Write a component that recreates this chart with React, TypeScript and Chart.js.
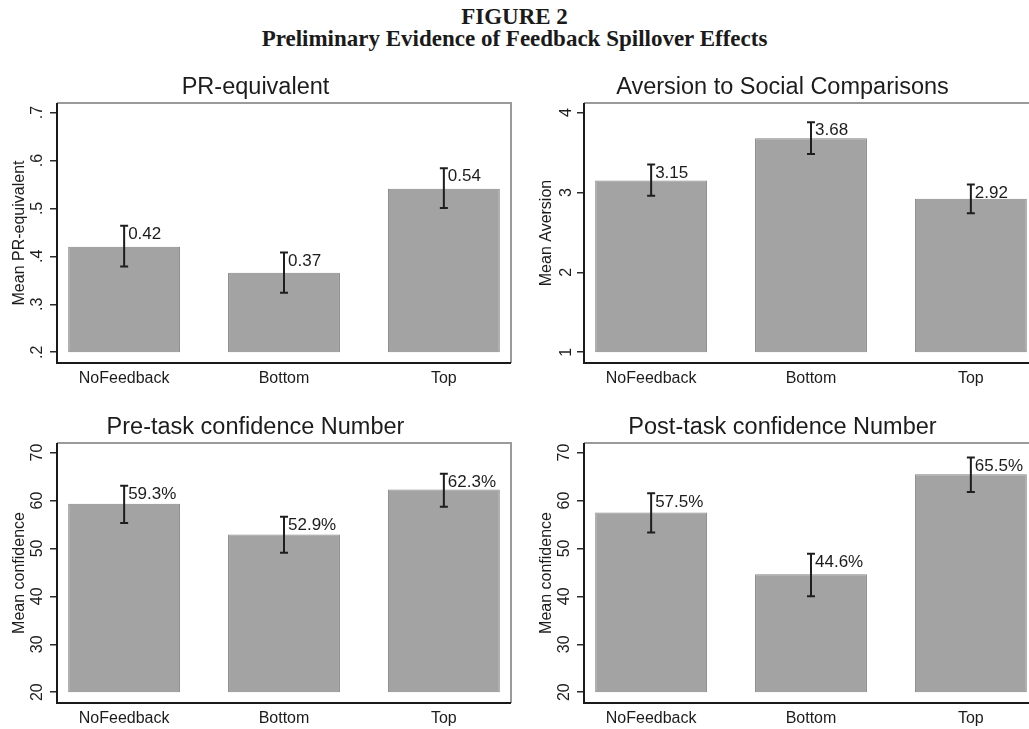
import React, { useEffect, useRef } from 'react';
import { Chart, registerables } from 'chart.js';

Chart.register(...registerables);

// ---------- data ----------
const categories = ['NoFeedback', 'Bottom', 'Top'];

const prMean = [0.42, 0.366, 0.541];
const prLow = [0.379, 0.324, 0.501];
const prHigh = [0.464, 0.408, 0.584];
const prTicks = [0.2, 0.3, 0.4, 0.5, 0.6, 0.7];
const prTickLabels = ['.2', '.3', '.4', '.5', '.6', '.7'];

const aversionMean = [3.15, 3.68, 2.92];
const aversionLow = [2.96, 3.48, 2.74];
const aversionHigh = [3.35, 3.88, 3.1];
const aversionTicks = [1, 2, 3, 4];
const aversionTickLabels = ['1', '2', '3', '4'];

const preMean = [59.3, 52.9, 62.3];
const preLow = [55.3, 49.1, 58.7];
const preHigh = [63.1, 56.6, 65.6];

const postMean = [57.5, 44.6, 65.5];
const postLow = [53.3, 40.0, 61.8];
const postHigh = [61.5, 48.9, 69.0];

const confTicks = [20, 30, 40, 50, 60, 70];
const confTickLabels = ['20', '30', '40', '50', '60', '70'];

// ---------- styling ----------
const FONT = "'Liberation Sans', Arial, Helvetica, sans-serif";
const TEXT = '#1c1c1c';
const CANVAS_W = 568;
const CANVAS_H = 333;

type PanelDef = {
  title: string;
  yTitle: string;
  mean: number[];
  low: number[];
  high: number[];
  ticks: number[];
  tickLabels: string[];
  fmt: (v: number) => string;
  tickPad: number;
};

const panels: PanelDef[] = [
  { title: 'PR-equivalent', yTitle: 'Mean PR-equivalent', mean: prMean, low: prLow, high: prHigh, ticks: prTicks, tickLabels: prTickLabels, fmt: (v) => v.toFixed(2), tickPad: 5.8 },
  { title: 'Aversion to Social Comparisons', yTitle: 'Mean Aversion', mean: aversionMean, low: aversionLow, high: aversionHigh, ticks: aversionTicks, tickLabels: aversionTickLabels, fmt: (v) => v.toFixed(2), tickPad: 5.5 },
  { title: 'Pre-task confidence Number', yTitle: 'Mean confidence', mean: preMean, low: preLow, high: preHigh, ticks: confTicks, tickLabels: confTickLabels, fmt: (v) => v.toFixed(1) + '%', tickPad: 3.1 },
  { title: 'Post-task confidence Number', yTitle: 'Mean confidence', mean: postMean, low: postLow, high: postHigh, ticks: confTicks, tickLabels: confTickLabels, fmt: (v) => v.toFixed(1) + '%', tickPad: 3.1 },
];

function makeConfig(p: PanelDef): any {
  const lo = p.ticks[0];
  const hi = p.ticks[p.ticks.length - 1];
  const span = hi - lo;
  const base = lo;

  const overlay = {
    id: 'overlay' + p.title,
    afterDatasetsDraw(chart: any) {
      const { ctx, chartArea } = chart;
      const xs = chart.scales.x;
      const ys = chart.scales.y;
      ctx.save();
      // error bars
      ctx.strokeStyle = '#1e1e1e';
      ctx.lineWidth = 2;
      for (let i = 0; i < categories.length; i++) {
        const x = xs.getPixelForValue(i);
        const yH = ys.getPixelForValue(p.high[i]);
        const yL = ys.getPixelForValue(p.low[i]);
        ctx.beginPath();
        ctx.moveTo(x, yH);
        ctx.lineTo(x, yL);
        ctx.moveTo(x - 4, yH);
        ctx.lineTo(x + 4, yH);
        ctx.moveTo(x - 4, yL);
        ctx.lineTo(x + 4, yL);
        ctx.stroke();
        ctx.fillStyle = TEXT;
        ctx.font = `17px ${FONT}`;
        ctx.textAlign = 'left';
        ctx.textBaseline = 'middle';
        ctx.fillText(p.fmt(p.mean[i]), x + 4, yH + 8.5);
      }
      // frame
      ctx.lineWidth = 2;
      ctx.strokeStyle = '#9a9a9a';
      ctx.beginPath();
      ctx.moveTo(chartArea.left, chartArea.top);
      ctx.lineTo(chartArea.right, chartArea.top);
      ctx.lineTo(chartArea.right, chartArea.bottom);
      ctx.stroke();
      ctx.strokeStyle = '#1a1a1a';
      ctx.beginPath();
      ctx.moveTo(chartArea.left, chartArea.top);
      ctx.lineTo(chartArea.left, chartArea.bottom);
      ctx.lineTo(chartArea.right, chartArea.bottom);
      ctx.stroke();
      ctx.restore();
    },
  };

  return {
    type: 'bar',
    data: {
      datasets: [
        {
          data: categories.map((_, i) => ({ x: i, y: [base, p.mean[i]] })),
          backgroundColor: '#a3a3a3',
          borderColor: '#868686',
          borderWidth: 1,
          borderSkipped: false,
          categoryPercentage: 1,
          barPercentage: 0.7,
        },
      ],
    },
    options: {
      responsive: false,
      animation: false,
      events: [],
      layout: { padding: { left: 0, right: 57, top: 0, bottom: 0 } },
      plugins: {
        legend: { display: false },
        tooltip: { enabled: false },
        title: {
          display: true,
          text: p.title,
          color: TEXT,
          font: { family: FONT, size: 23.5, weight: 'normal' },
          padding: { top: 13.9, bottom: 0.9 },
        },
      },
      scales: {
        x: {
          type: 'linear',
          offset: false,
          min: -0.42,
          max: 2.42,
          grid: { display: false, drawTicks: false, drawOnChartArea: false },
          border: { display: false },
          afterBuildTicks: (s: any) => {
            s.ticks = categories.map((_, i) => ({ value: i }));
          },
          afterFit: (s: any) => {
            s.height = 30;
          },
          ticks: {
            autoSkip: false,
            maxRotation: 0,
            minRotation: 0,
            padding: 5.5,
            color: TEXT,
            font: { family: FONT, size: 16 },
            callback: (_v: any, i: number) => categories[i],
          },
        },
        y: {
          type: 'linear',
          min: lo - 0.045 * span,
          max: hi + 0.04 * span,
          grid: {
            display: true,
            drawOnChartArea: false,
            drawTicks: true,
            tickLength: 7,
            color: '#2a2a2a',
            lineWidth: 1.5,
          },
          border: { display: false },
          afterBuildTicks: (s: any) => {
            s.ticks = p.ticks.map((v) => ({ value: v }));
          },
          afterFit: (s: any) => {
            s.width = 57;
          },
          ticks: {
            autoSkip: false,
            minRotation: 90,
            maxRotation: 90,
            crossAlign: 'center',
            padding: p.tickPad,
            color: TEXT,
            font: { family: FONT, size: 16 },
            callback: (_v: any, i: number) => p.tickLabels[i],
          },
          title: {
            display: true,
            text: p.yTitle,
            color: TEXT,
            font: { family: FONT, size: 16 },
            padding: { top: 10, bottom: 0 },
          },
        },
      },
    },
    plugins: [overlay],
  };
}

function PanelChart({ panel, left, top }: { panel: PanelDef; left: number; top: number }) {
  const ref = useRef<HTMLCanvasElement | null>(null);
  useEffect(() => {
    if (!ref.current) return;
    const chart = new Chart(ref.current, makeConfig(panel));
    return () => chart.destroy();
  }, [panel]);
  return (
    <canvas
      ref={ref}
      width={CANVAS_W}
      height={CANVAS_H}
      style={{ position: 'absolute', left, top, width: CANVAS_W, height: CANVAS_H }}
    />
  );
}

export default function App() {
  const serif = "'Liberation Serif', 'Times New Roman', Times, serif";
  return (
    <div
      style={{
        position: 'absolute',
        left: 0,
        top: 0,
        width: 1029,
        height: 729,
        overflow: 'hidden',
        background: '#ffffff',
      }}
    >
      <div
        style={{
          position: 'absolute',
          left: 0,
          top: 6,
          width: 1029,
          textAlign: 'center',
          fontFamily: serif,
          fontWeight: 'bold',
          fontSize: 23,
          lineHeight: '22px',
          color: '#1a1a1a',
        }}
      >
        <div>FIGURE 2</div>
        <div>Preliminary Evidence of Feedback Spillover Effects</div>
      </div>
      <PanelChart panel={panels[0]} left={0} top={60} />
      <PanelChart panel={panels[1]} left={527} top={60} />
      <PanelChart panel={panels[2]} left={0} top={400} />
      <PanelChart panel={panels[3]} left={527} top={400} />
    </div>
  );
}
